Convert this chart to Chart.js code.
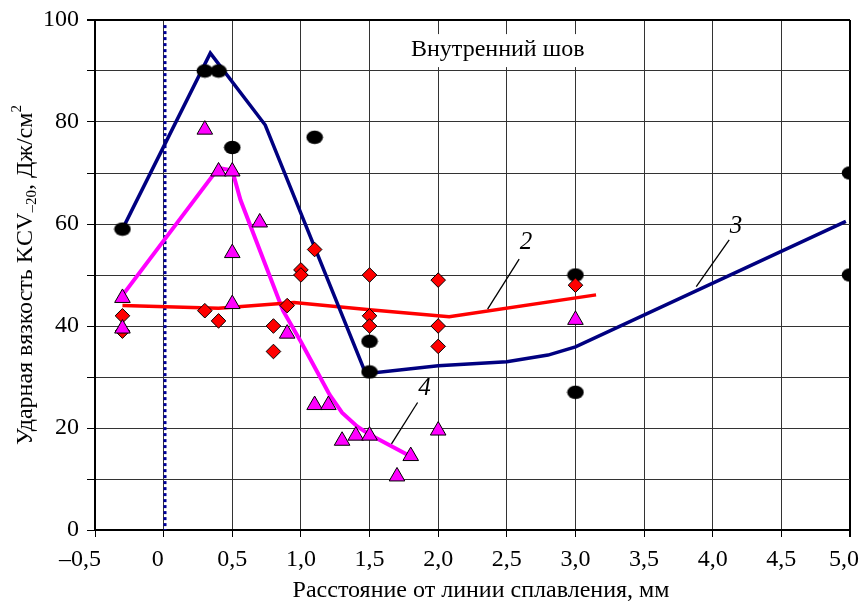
<!DOCTYPE html>
<html><head><meta charset="utf-8">
<script src="https://cdn.jsdelivr.net/npm/chart.js@4/dist/chart.umd.min.js"></script>
<style>html,body{margin:0;padding:0;background:#fff;}canvas{display:block;}</style>
</head><body>
<canvas id="c" width="861" height="604"></canvas>
<script>
const FONT = "'Liberation Serif','Times New Roman',serif";

// ---- data ----
const xTicks = [-0.5, 0, 0.5, 1.0, 1.5, 2.0, 2.5, 3.0, 3.5, 4.0, 4.5, 5.0];
const yTicks = [0, 20, 40, 60, 80, 100];

// curve 2 (red)
const line2X = [-0.3, 0.4, 0.95, 1.5, 2.08, 3.15];
const line2Y = [44, 43.5, 44.6, 43.2, 41.8, 46.1];
// curve 3 (navy)
const line3X = [-0.3, 0.34, 0.74, 1.46, 1.52, 2.0, 2.5, 2.8, 3.0, 4.97];
const line3Y = [59, 93.5, 79.4, 31.5, 30.8, 32.2, 33.0, 34.3, 35.9, 60.5];
// curve 4 (magenta)
const line4X = [-0.3, 0.4, 0.5, 0.56, 0.87, 1.0, 1.21, 1.3, 1.41, 1.5, 1.78];
const line4Y = [46, 71, 70.5, 64.7, 43, 36.9, 26.5, 23, 20.3, 18.7, 14.7];

// measured points
const circX = [-0.3, 0.3, 0.4, 0.5, 1.1, 1.5, 1.5, 3.0, 3.0, 5.0, 5.0];
const circY = [59, 90, 90, 75, 77, 37, 31, 50, 27, 70, 50];
const diamX = [-0.3, -0.3, 0.3, 0.4, 0.8, 0.8, 0.9, 1.0, 1.0, 1.1, 1.5, 1.5, 1.5, 2.0, 2.0, 2.0, 3.0];
const diamY = [42, 39, 43, 41, 40, 35, 44, 51, 50, 55, 50, 42, 40, 49, 40, 36, 48];
const triX = [-0.3, -0.3, 0.3, 0.4, 0.5, 0.5, 0.5, 0.7, 0.9, 1.1, 1.2, 1.3, 1.4, 1.5, 1.7, 1.8, 2.0, 3.0];
const triY = [45.5, 39.5, 78.5, 70.3, 70.3, 54.3, 44.3, 60.3, 38.5, 24.5, 24.5, 17.5, 18.5, 18.5, 10.5, 14.5, 19.5, 41.2];

const fusionLineX = 0.01;
const seamLabel = 'Внутренний шов';
const xTitle = 'Расстояние от линии сплавления, мм';

// ---- helpers ----
const pts = (xs, ys) => xs.map((x, i) => ({x, y: ys[i]}));
function ellipseImg() {
  const c = document.createElement('canvas');
  c.width = 18; c.height = 15;
  const g = c.getContext('2d');
  g.fillStyle = '#000';
  g.beginPath(); g.ellipse(9, 7.5, 8.3, 6.8, 0, 0, Math.PI * 2); g.fill();
  return c;
}
const fmtX = v => {
  if (v === 0) return '0  ';
  const s = v.toFixed(1).replace('.', ',').replace('-', '–');
  if (v === -0.5) return s + '     ';
  if (v === 5) return s + '  ';
  return s;
};

const overlay = {
  id: 'overlay',
  beforeDatasetsDraw(chart) {
    const {ctx, scales: {x, y}} = chart;
    ctx.save();
    // fusion line (dotted)
    ctx.strokeStyle = '#000099'; ctx.lineWidth = 3; ctx.setLineDash([3, 3]);
    const fx = x.getPixelForValue(fusionLineX);
    ctx.beginPath(); ctx.moveTo(fx, y.getPixelForValue(99)); ctx.lineTo(fx, y.getPixelForValue(0)); ctx.stroke();
    ctx.setLineDash([]);
    // seam label with white box
    ctx.font = '24px ' + FONT;
    const lx = x.getPixelForValue(2.434), ly = y.getPixelForValue(94.1);
    const w = ctx.measureText(seamLabel).width;
    ctx.fillStyle = '#fff';
    ctx.fillRect(lx - w / 2 - 8, ly - 16, w + 16, 33);
    ctx.fillStyle = '#000'; ctx.textAlign = 'center'; ctx.textBaseline = 'middle';
    ctx.fillText(seamLabel, lx, ly);
    ctx.restore();
  },
  afterDatasetsDraw(chart) {
    const {ctx, scales: {x, y}} = chart;
    const P = (vx, vy) => [x.getPixelForValue(vx), y.getPixelForValue(vy)];
    const notes = [
      {t: '2', at: [2.64, 56.3], a: [2.36, 43.3], b: [2.59, 53.1]},
      {t: '3', at: [4.17, 59.5], a: [3.88, 47.7], b: [4.12, 56.9]},
      {t: '4', at: [1.90, 27.8], a: [1.66, 16.9], b: [1.85, 25.0]}
    ];
    ctx.save();
    ctx.strokeStyle = '#000'; ctx.lineWidth = 1.3;
    ctx.fillStyle = '#000'; ctx.font = 'italic 25px ' + FONT;
    ctx.textAlign = 'center'; ctx.textBaseline = 'middle';
    for (const n of notes) {
      const [ax, ay] = P(...n.a), [bx, by] = P(...n.b), [tx, ty] = P(...n.at);
      ctx.beginPath(); ctx.moveTo(ax, ay); ctx.lineTo(bx, by); ctx.stroke();
      ctx.fillText(n.t, tx, ty);
    }
    ctx.restore();
  },
  afterDraw(chart) {
    const {ctx} = chart;
    ctx.save();
    // x title
    ctx.fillStyle = '#000'; ctx.font = '24px ' + FONT;
    ctx.textAlign = 'center'; ctx.textBaseline = 'middle';
    ctx.fillText(xTitle, 481, 591);
    // y title with sub/superscript
    const parts = [
      {t: 'Ударная вязкость KCV', f: 24, dy: 0},
      {t: '–20', f: 15, dy: 4},
      {t: ', Дж/см', f: 24, dy: 0},
      {t: '2', f: 15, dy: -11}
    ];
    let total = 0;
    for (const p of parts) { ctx.font = p.f + 'px ' + FONT; p.w = ctx.measureText(p.t).width; total += p.w; }
    ctx.translate(24, 275); ctx.rotate(-Math.PI / 2);
    ctx.textAlign = 'left'; ctx.textBaseline = 'alphabetic';
    let cx = -total / 2;
    for (const p of parts) {
      ctx.font = p.f + 'px ' + FONT;
      ctx.fillText(p.t, cx, 8 + p.dy);
      cx += p.w;
    }
    ctx.restore();
  }
};

const edgeW = v => (v === 100 || v === 5) ? 2 : 1;
const edgeC = v => (v === 100 || v === 5) ? '#000' : '#333';

new Chart(document.getElementById('c'), {
  type: 'scatter',
  data: {
    datasets: [
      {label: '4', data: pts(triX, triY), pointStyle: 'triangle', pointRadius: 9, pointHoverRadius: 9,
       backgroundColor: '#ff00ff', borderColor: '#000', borderWidth: 1, order: 1},
      {label: '2', data: pts(diamX, diamY), pointStyle: 'rectRot', pointRadius: 7.3, pointHoverRadius: 7.3,
       backgroundColor: '#ff0000', borderColor: '#000', borderWidth: 1, order: 2},
      {label: '3', data: pts(circX, circY), pointStyle: ellipseImg(), pointRadius: 8, order: 3},
      {label: 'c2', data: pts(line2X, line2Y), showLine: true, pointRadius: 0, borderColor: '#ff0000',
       borderWidth: 3.5, order: 5},
      {label: 'c3', data: pts(line3X, line3Y), showLine: true, pointRadius: 0, borderColor: '#000080',
       borderWidth: 3.5, order: 4},
      {label: 'c4', data: pts(line4X, line4Y), showLine: true, pointRadius: 0, borderColor: '#ff00ff',
       borderWidth: 4, order: 6}
    ]
  },
  options: {
    responsive: false, animation: false, devicePixelRatio: 1, events: [],
    layout: {padding: {top: 20, right: 11, left: 0, bottom: 0}},
    plugins: {legend: {display: false}, tooltip: {enabled: false}},
    scales: {
      x: {
        type: 'linear', min: -0.5, max: 5,
        afterBuildTicks: s => { s.ticks = xTicks.map(v => ({value: v})); },
        ticks: {callback: v => fmtX(v), font: {family: FONT, size: 24}, color: '#000', padding: 8, maxRotation: 0, autoSkip: false},
        grid: {color: c => edgeC(c.tick && c.tick.value), lineWidth: c => edgeW(c.tick && c.tick.value), tickLength: 7, tickColor: '#000'},
        border: {color: '#000', width: 2},
        afterFit: s => { s.height = 74; s.paddingLeft = 0; s.paddingRight = 0; }
      },
      y: {
        min: 0, max: 100,
        ticks: {stepSize: 10, callback: v => yTicks.includes(v) ? String(v) : '', font: {family: FONT, size: 24}, color: '#000', padding: 8, autoSkip: false},
        grid: {color: c => edgeC(c.tick && c.tick.value), lineWidth: c => edgeW(c.tick && c.tick.value), tickLength: 8, tickColor: '#000'},
        border: {color: '#000', width: 2},
        afterFit: s => { s.width = 95; s.paddingTop = 0; s.paddingBottom = 0; }
      }
    }
  },
  plugins: [overlay]
});
</script>
</body></html>
